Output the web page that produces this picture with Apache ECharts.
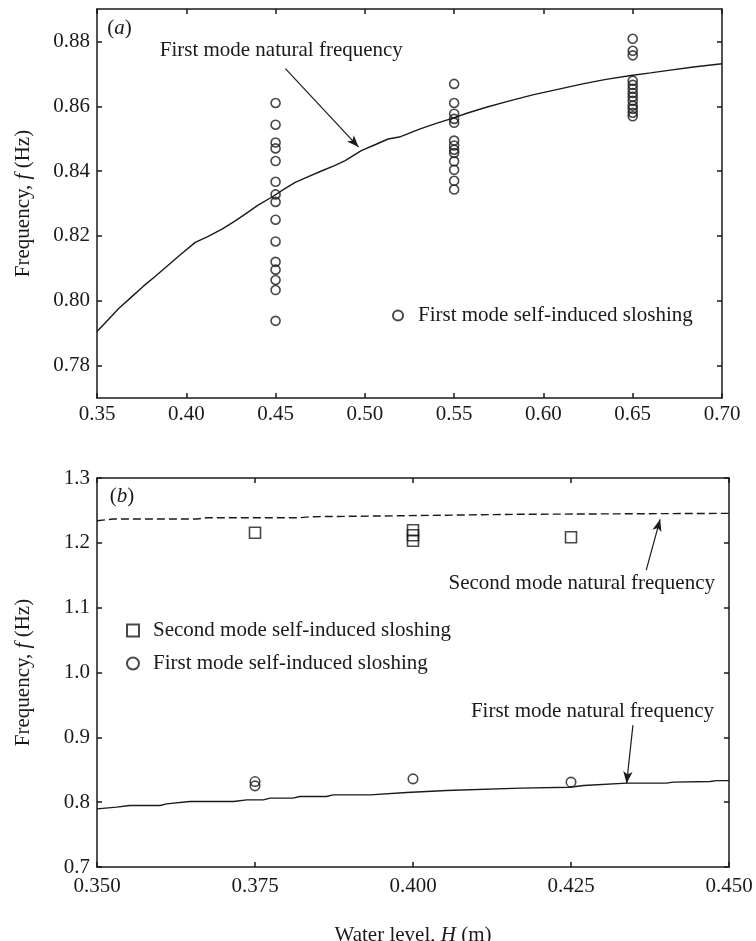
<!DOCTYPE html>
<html>
<head>
<meta charset="utf-8">
<title>Sloshing frequency</title>
<script src="https://cdn.jsdelivr.net/npm/echarts@6/dist/echarts.min.js"></script>
<style>
	html, body { margin: 0; padding: 0; background: #fff; }
	#main { width: 756px; height: 941px; }
</style>
</head>
<body>
<div id="main"></div>
<script>
// (a) tick labels
var xTicksA = [0.35, 0.40, 0.45, 0.50, 0.55, 0.60, 0.65, 0.70];
var yTicksA = [0.78, 0.80, 0.82, 0.84, 0.86, 0.88];
// (b) tick labels
var xTicksB = [0.350, 0.375, 0.400, 0.425, 0.450];
var yTicksB = [0.7, 0.8, 0.9, 1.0, 1.1, 1.2, 1.3];

// (a) first mode natural frequency curve [H, f]
var naturalA = [
	[0.350, 0.7905], [0.356, 0.7940], [0.362, 0.7975], [0.370, 0.8015], [0.376, 0.8045],
	[0.383, 0.8077], [0.390, 0.8110], [0.396, 0.8139], [0.405, 0.8180], [0.412, 0.8198],
	[0.420, 0.8221], [0.427, 0.8245], [0.433, 0.8267], [0.440, 0.8294], [0.448, 0.8320],
	[0.455, 0.8345], [0.461, 0.8365], [0.468, 0.8382], [0.476, 0.8401], [0.483, 0.8417],
	[0.489, 0.8432], [0.498, 0.8463], [0.506, 0.8482], [0.513, 0.8499], [0.520, 0.8506],
	[0.531, 0.8530], [0.540, 0.8547], [0.548, 0.8561], [0.558, 0.8580], [0.568, 0.8597],
	[0.580, 0.8615], [0.594, 0.8635], [0.608, 0.8652], [0.622, 0.8669], [0.635, 0.8683],
	[0.649, 0.8695], [0.660, 0.8703], [0.669, 0.8710], [0.684, 0.8721], [0.700, 0.8731]
];
// (a) measured first mode sloshing, per water level
var levelsA = [0.45, 0.55, 0.65];
var slosh045 = [0.8610, 0.8543, 0.8488, 0.8470, 0.8431, 0.8367, 0.8328, 0.8305, 0.8250, 0.8183, 0.8120, 0.8096, 0.8064, 0.8033, 0.7938];
var slosh055 = [0.8669, 0.8610, 0.8577, 0.8561, 0.8549, 0.8494, 0.8479, 0.8466, 0.8456, 0.8430, 0.8404, 0.8370, 0.8343];
var slosh065 = [0.8808, 0.8771, 0.8757, 0.8679, 0.8666, 0.8654, 0.8641, 0.8629, 0.8617, 0.8602, 0.8592, 0.8580, 0.8569];

// (b) natural frequency curves
var naturalB1 = [
	[0.3500, 0.7897], [0.3531, 0.7923], [0.3552, 0.7948], [0.3600, 0.7948], [0.3610, 0.7974],
	[0.3647, 0.8010], [0.3716, 0.8010], [0.3737, 0.8036], [0.3763, 0.8036], [0.3774, 0.8062],
	[0.3810, 0.8062], [0.3821, 0.8087], [0.3863, 0.8087], [0.3874, 0.8113], [0.3932, 0.8113],
	[0.3990, 0.8148], [0.4053, 0.8179], [0.4170, 0.8216], [0.4248, 0.8231], [0.4270, 0.8256],
	[0.4338, 0.8293], [0.4401, 0.8293], [0.4412, 0.8309], [0.4470, 0.8318], [0.4480, 0.8333],
	[0.4500, 0.8333]
];
var naturalB2 = [
	[0.3500, 1.2341], [0.3526, 1.2367], [0.3658, 1.2367], [0.3674, 1.2387], [0.3821, 1.2387],
	[0.3837, 1.2403], [0.3948, 1.2414], [0.4164, 1.2440], [0.4500, 1.2455]
];
// (b) measured sloshing [H, f]
var secondSloshB = [[0.375, 1.2156], [0.400, 1.2193], [0.400, 1.2116], [0.400, 1.2032], [0.425, 1.2085]];
var firstSloshB = [[0.375, 0.8318], [0.375, 0.8252], [0.400, 0.8360], [0.425, 0.8309]];

var FONT = 'Liberation Serif';
var FS = 21;
var INK = '#1a1a1a';

function pairs(x, list) {
	var out = [];
	for(var i = 0; i < list.length; i++) {
		out.push([x, list[i]]);
	}
	return out;
}

var sloshA = pairs(levelsA[0], slosh045).concat(pairs(levelsA[1], slosh055)).concat(pairs(levelsA[2], slosh065));

function axisBase(grid, min, max, ticks, pos, showLabel, fmt, margin) {
	return {
		type: 'value',
		gridIndex: grid,
		position: pos,
		min: min,
		max: max,
		splitLine: { show: false },
		axisLine: { show: true, onZero: false, lineStyle: { color: INK, width: 1.5 } },
		axisTick: { show: true, inside: true, length: 5, customValues: ticks, lineStyle: { color: INK, width: 1.5 } },
		axisLabel: {
			show: showLabel,
			customValues: ticks,
			formatter: function(v) { return v.toFixed(fmt); },
			fontFamily: FONT,
			fontSize: FS,
			color: INK,
			margin: margin
		}
	};
}

var nameStyle = {
	fontFamily: FONT, fontSize: FS, color: INK,
	rich: { i: { fontFamily: FONT, fontSize: FS, fontStyle: 'italic', color: INK } }
};

var yA = axisBase(0, 0.77, 0.89, yTicksA, 'left', true, 2, 7);
yA.name = 'Frequency, {i|f} (Hz)';
yA.nameLocation = 'middle';
yA.nameRotate = 90;
yA.nameGap = 63;
yA.nameTextStyle = nameStyle;

var yB = axisBase(1, 0.7, 1.3, yTicksB, 'left', true, 1, 7);
yB.name = 'Frequency, {i|f} (Hz)';
yB.nameLocation = 'middle';
yB.nameRotate = 90;
yB.nameGap = 63;
yB.nameTextStyle = nameStyle;

var xB = axisBase(1, 0.35, 0.45, xTicksB, 'bottom', true, 3, 9);
xB.name = 'Water level, {i|H} (m)';
xB.nameLocation = 'middle';
xB.nameGap = 58;
xB.nameTextStyle = nameStyle;

function arrowMark(from, to) {
	return {
		silent: true,
		animation: false,
		symbol: ['none', 'arrow'],
		symbolSize: [7, 12],
		label: { show: false },
		emphasis: { disabled: true },
		lineStyle: { color: INK, width: 1.2, type: 'solid' },
		data: [[{ coord: from }, { coord: to }]]
	};
}

var lineStyle = { color: INK, width: 1.4 };
var hollow = { color: 'rgba(0,0,0,0)', borderColor: INK, borderWidth: 1.6 };

var option = {
	animation: false,
	backgroundColor: '#fff',
	textStyle: { fontFamily: FONT },
	grid: [
		{ left: 97, top: 9, width: 625, height: 389, outerBoundsMode: 'none', containLabel: false },
		{ left: 97, top: 478, width: 632, height: 389, outerBoundsMode: 'none', containLabel: false }
	],
	xAxis: [
		axisBase(0, 0.35, 0.70, xTicksA, 'bottom', true, 2, 6),
		axisBase(0, 0.35, 0.70, xTicksA, 'top', false, 2, 6),
		xB,
		axisBase(1, 0.35, 0.45, xTicksB, 'top', false, 3, 6)
	],
	yAxis: [
		yA,
		axisBase(0, 0.77, 0.89, yTicksA, 'right', false, 2, 6),
		yB,
		axisBase(1, 0.7, 1.3, yTicksB, 'right', false, 1, 6)
	],
	legend: [
		{
			left: 392, top: 305, padding: 0, itemWidth: 10, itemHeight: 10,
			selectedMode: false,
			data: ['First mode self-induced sloshing'],
			textStyle: { fontFamily: FONT, fontSize: FS, color: INK, padding: [0, 0, 0, 10] }
		},
		{
			left: 126, top: 620, padding: 0, orient: 'vertical', itemGap: 12, itemWidth: 12, itemHeight: 12,
			selectedMode: false,
			data: ['Second mode self-induced sloshing', 'First mode self-induced sloshing '],
			textStyle: { fontFamily: FONT, fontSize: FS, color: INK, padding: [0, 0, 0, 9] }
		}
	],
	series: [
		{
			name: 'First mode natural frequency',
			type: 'line', xAxisIndex: 0, yAxisIndex: 0,
			data: naturalA, showSymbol: false, lineStyle: lineStyle, silent: true,
			markLine: arrowMark([0.4555, 0.8716], [0.4965, 0.8474])
		},
		{
			name: 'First mode self-induced sloshing',
			type: 'scatter', xAxisIndex: 0, yAxisIndex: 0,
			data: sloshA, symbol: 'circle', symbolSize: 9, itemStyle: hollow, silent: true
		},
		{
			name: 'Second mode natural frequency',
			type: 'line', xAxisIndex: 2, yAxisIndex: 2,
			data: naturalB2, showSymbol: false, silent: true,
			lineStyle: { color: INK, width: 1.4, type: [8, 4] },
			markLine: arrowMark([0.4369, 1.158], [0.4391, 1.2363])
		},
		{
			name: 'First mode natural frequency (b)',
			type: 'line', xAxisIndex: 2, yAxisIndex: 2,
			data: naturalB1, showSymbol: false, lineStyle: lineStyle, silent: true,
			markLine: arrowMark([0.4348, 0.9188], [0.4338, 0.8288])
		},
		{
			name: 'Second mode self-induced sloshing',
			type: 'scatter', xAxisIndex: 2, yAxisIndex: 2,
			data: secondSloshB, symbol: 'rect', symbolSize: 11, itemStyle: hollow, silent: true
		},
		{
			name: 'First mode self-induced sloshing ',
			type: 'scatter', xAxisIndex: 2, yAxisIndex: 2,
			data: firstSloshB, symbol: 'circle', symbolSize: 9.5, itemStyle: hollow, silent: true
		}
	]
};

var chart = echarts.init(document.getElementById('main'), null, { renderer: 'canvas' });
chart.setOption(option);

// annotation text placed through the axes
function note(grid, pt, text, align) {
	var p = chart.convertToPixel({ gridIndex: grid }, pt);
	return {
		type: 'text',
		x: p[0], y: p[1],
		silent: true,
		style: {
			text: text,
			fill: INK,
			font: FS + 'px "' + FONT + '"',
			align: align || 'center',
			verticalAlign: 'middle',
			rich: { i: { fontFamily: FONT, fontSize: FS, fontStyle: 'italic', fill: INK } }
		}
	};
}

chart.setOption({
	graphic: [
		note(0, [0.3558, 0.8839], '({i|a})', 'left'),
		note(0, [0.4532, 0.8771], 'First mode natural frequency'),
		note(1, [0.3520, 1.2710], '({i|b})', 'left'),
		note(1, [0.4267, 1.1380], 'Second mode natural frequency'),
		note(1, [0.4284, 0.9394], 'First mode natural frequency')
	]
});
</script>
</body>
</html>
